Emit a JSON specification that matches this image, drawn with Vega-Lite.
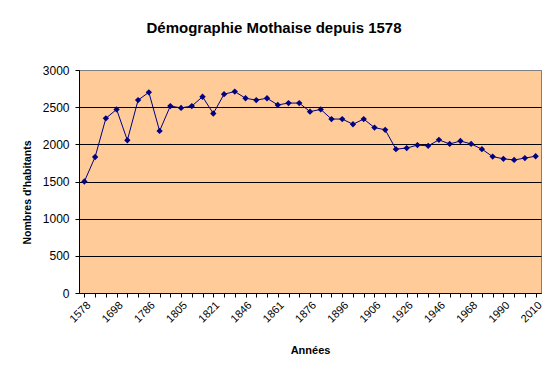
{
  "$schema": "https://vega.github.io/schema/vega-lite/v6.json",
  "autosize": {"type": "none"},
  "padding": {"left": 79, "top": 70, "right": 14, "bottom": 85},
  "width": 462,
  "height": 223,
  "background": "white",
  "title": {
    "text": "Démographie Mothaise depuis 1578",
    "font": "Liberation Sans",
    "fontSize": 15,
    "fontWeight": "bold",
    "color": "black",
    "anchor": "middle",
    "dx": -36,
    "offset": 28
  },
  "data": {
    "values": [
      {"annee": "1578", "habitants": 1500},
      {"annee": "1600", "habitants": 1830},
      {"annee": "1650", "habitants": 2350},
      {"annee": "1698", "habitants": 2470},
      {"annee": "1720", "habitants": 2055},
      {"annee": "1750", "habitants": 2595},
      {"annee": "1786", "habitants": 2700},
      {"annee": "1793", "habitants": 2180},
      {"annee": "1800", "habitants": 2515},
      {"annee": "1805", "habitants": 2490},
      {"annee": "1810", "habitants": 2515},
      {"annee": "1815", "habitants": 2640},
      {"annee": "1821", "habitants": 2415},
      {"annee": "1831", "habitants": 2675},
      {"annee": "1841", "habitants": 2710},
      {"annee": "1846", "habitants": 2620},
      {"annee": "1851", "habitants": 2595},
      {"annee": "1856", "habitants": 2620},
      {"annee": "1861", "habitants": 2530},
      {"annee": "1866", "habitants": 2555},
      {"annee": "1872", "habitants": 2555},
      {"annee": "1876", "habitants": 2440},
      {"annee": "1881", "habitants": 2470},
      {"annee": "1891", "habitants": 2340},
      {"annee": "1896", "habitants": 2340},
      {"annee": "1901", "habitants": 2270},
      {"annee": "1904", "habitants": 2340},
      {"annee": "1906", "habitants": 2225},
      {"annee": "1911", "habitants": 2195},
      {"annee": "1921", "habitants": 1935},
      {"annee": "1926", "habitants": 1950},
      {"annee": "1931", "habitants": 1990},
      {"annee": "1936", "habitants": 1980},
      {"annee": "1946", "habitants": 2060},
      {"annee": "1954", "habitants": 2005},
      {"annee": "1962", "habitants": 2045},
      {"annee": "1968", "habitants": 2005},
      {"annee": "1975", "habitants": 1935},
      {"annee": "1982", "habitants": 1835},
      {"annee": "1990", "habitants": 1805},
      {"annee": "1999", "habitants": 1790},
      {"annee": "2006", "habitants": 1815},
      {"annee": "2010", "habitants": 1840}
    ]
  },
  "mark": {
    "type": "line",
    "color": "#000080",
    "strokeWidth": 1,
    "point": {"shape": "diamond", "filled": true, "size": 40, "color": "#000080", "opacity": 1}
  },
  "encoding": {
    "x": {
      "field": "annee",
      "type": "ordinal",
      "sort": null,
      "scale": {"paddingOuter": 0.5},
      "axis": {
        "title": "Années",
        "titleFont": "Liberation Sans",
        "titleFontSize": 11,
        "titleFontWeight": "bold",
        "titleColor": "black",
        "titlePadding": 20,
        "labelAngle": -45,
        "labelFont": "Liberation Sans",
        "labelFontSize": 11,
        "labelColor": "black",
        "labelOverlap": false,
        "labelPadding": 2,
        "labelExpr": "indexof(['1578','1698','1786','1805','1821','1846','1861','1876','1896','1906','1926','1946','1968','1990','2010'], datum.value) >= 0 ? datum.value : ''",
        "domainColor": "black",
        "tickColor": "black",
        "tickSize": 4,
        "grid": false
      }
    },
    "y": {
      "field": "habitants",
      "type": "quantitative",
      "scale": {"domain": [0, 3000], "nice": false},
      "axis": {
        "title": "Nombres d'habitants",
        "titleFont": "Liberation Sans",
        "titleFontSize": 10.5,
        "titleFontWeight": "bold",
        "titleColor": "black",
        "titlePadding": 10,
        "titleY": 122,
        "values": [0, 500, 1000, 1500, 2000, 2500, 3000],
        "format": "d",
        "labelFont": "Liberation Sans",
        "labelFontSize": 12,
        "labelColor": "black",
        "labelPadding": 6,
        "domainColor": "black",
        "tickColor": "black",
        "tickSize": 4,
        "grid": true,
        "gridColor": {"condition": {"test": "datum.value === 3000", "value": "#808080"}, "value": "black"},
        "gridOpacity": 1,
        "gridWidth": 1
      }
    }
  },
  "config": {
    "font": "Liberation Sans",
    "view": {"fill": "#FFCC99", "stroke": "#808080", "strokeWidth": 1}
  }
}
